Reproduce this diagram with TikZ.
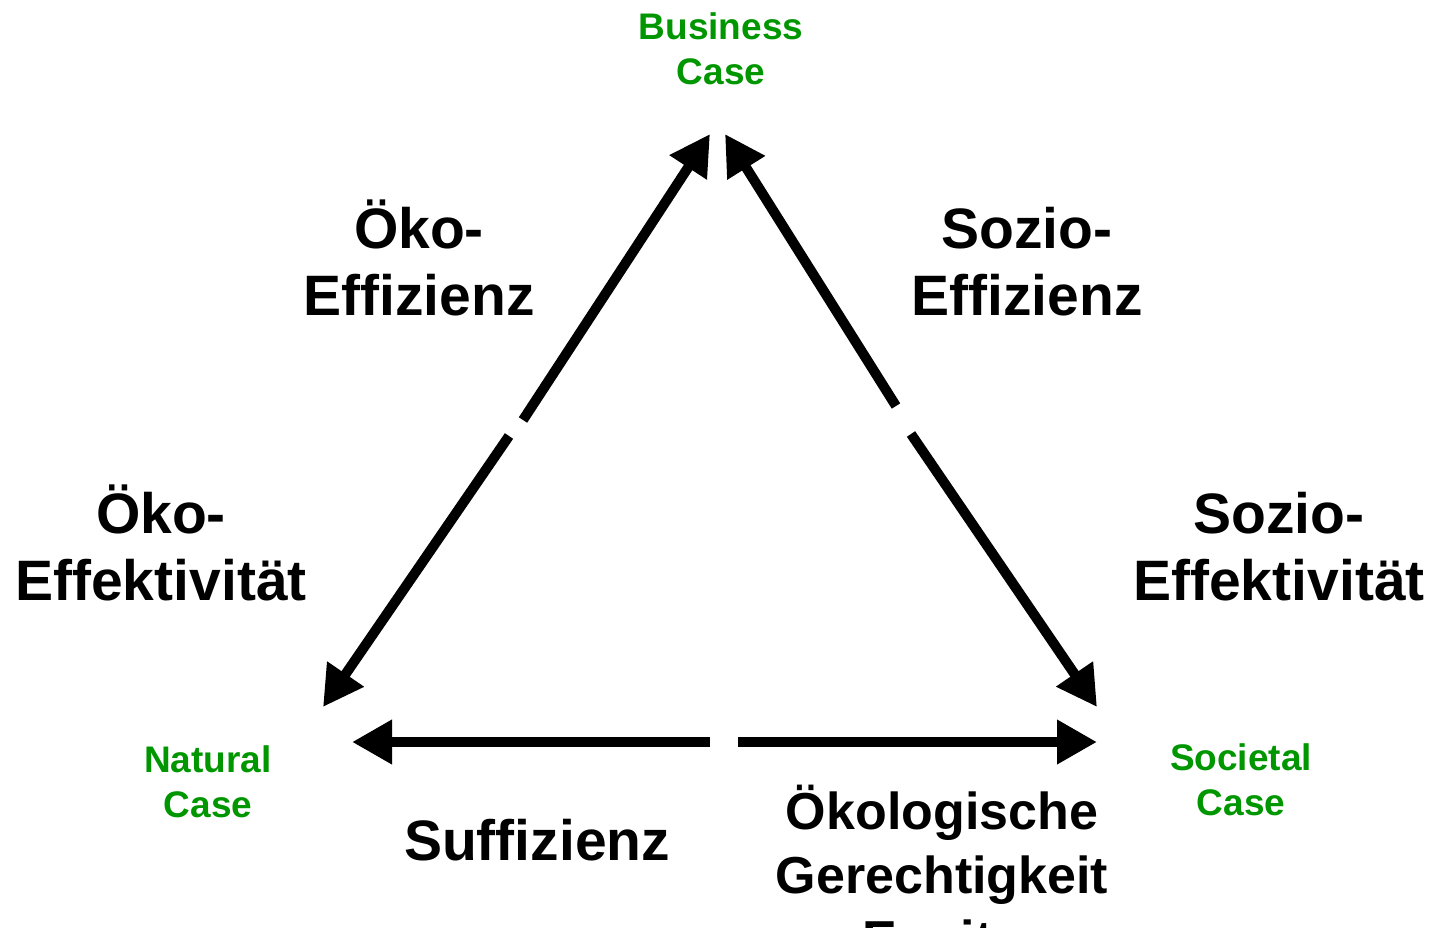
\documentclass[tikz,border=0pt]{standalone}
\usepackage{fontspec}
\setmainfont{Liberation Sans}
\usetikzlibrary{arrows.meta}
\definecolor{casegreen}{RGB}{0,150,0}
\begin{document}
\begin{tikzpicture}[x=1pt,y=-1pt,
  arr/.style={line width=10pt,-{Triangle[length=40pt,width=42pt]}},
  big/.style={inner sep=0pt,align=center,font=\fontsize{57}{67}\selectfont\bfseries},
  casetxt/.style={inner sep=0pt,align=center,text=casegreen,font=\fontsize{37}{45}\selectfont\bfseries}]
\useasboundingbox (0,0) rectangle (1432,928);
% arrow end points
\coordinate (ulA) at (523,420);
\coordinate (top1) at (710,134);
\coordinate (llA) at (509,436);
\coordinate (nat) at (323,707);
\coordinate (urA) at (896,406);
\coordinate (top2) at (725,134);
\coordinate (lrA) at (911,434);
\coordinate (soc) at (1097,707);
\coordinate (bl) at (710,742);
\coordinate (natb) at (352,742);
\coordinate (br) at (738,742);
\coordinate (socb) at (1097,742);
\draw[arr] (ulA) -- (top1);
\draw[arr] (llA) -- (nat);
\draw[arr] (urA) -- (top2);
\draw[arr] (lrA) -- (soc);
\draw[arr] (bl) -- (natb);
\draw[arr] (br) -- (socb);
% labels
\node[casetxt] (business) at (721,49) {Business\\Case};
\node[casetxt] (natural) at (208,782) {Natural\\Case};
\node[casetxt] (societal) at (1241,780) {Societal\\Case};
\node[big] (oekoeff) at (419,258) {Öko-\\Effizienz};
\node[big] (sozioeff) at (1027,262) {Sozio-\\Effizienz};
\node[big] (oekoeffekt) at (161,543) {Öko-\\Effektivität};
\node[big] (sozioeffekt) at (1279,547) {Sozio-\\Effektivität};
\node[big] (suff) at (537,840) {Suffizienz};
\node[big,font=\fontsize{52}{64}\selectfont\bfseries] (oekogerecht) at (942,877) {Ökologische\\Gerechtigkeit\\Equity};
\end{tikzpicture}
\end{document}
